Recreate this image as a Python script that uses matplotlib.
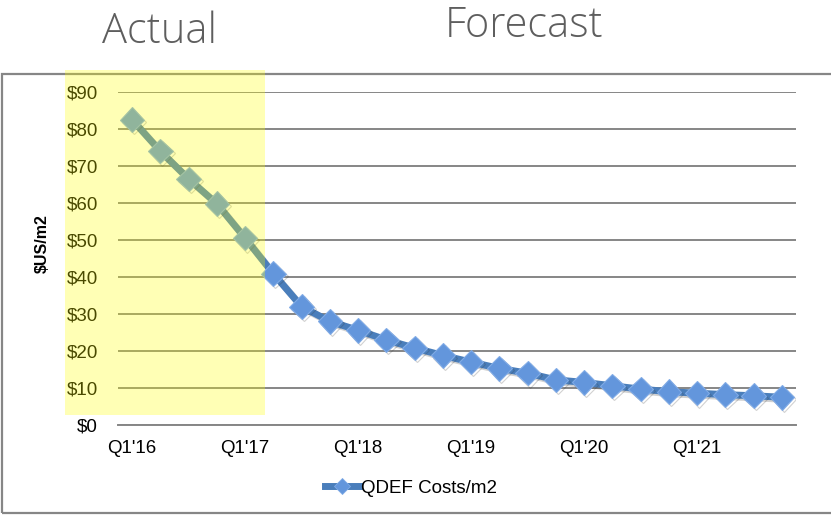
import matplotlib
matplotlib.use("Agg")
import matplotlib.pyplot as plt
from matplotlib.patches import Rectangle
from matplotlib.lines import Line2D
import matplotlib.patheffects as pe

# Quarterly cost per square metre, Q1'16 .. Q4'21
quarters = [f"Q{q}'{y}" for y in range(16, 22) for q in range(1, 5)]
costs = [82.5, 74.0, 66.5, 59.8, 50.5, 40.9, 32.0, 28.0,
         25.6, 23.0, 20.8, 18.8, 17.0, 15.3, 14.0, 12.2,
         11.5, 10.6, 9.7, 9.0, 8.6, 8.2, 7.9, 7.5]
tick_labels = ["Q1'16", "Q1'17", "Q1'18", "Q1'19", "Q1'20", "Q1'21"]
y_ticks = [0, 10, 20, 30, 40, 50, 60, 70, 80, 90]
series_name = "QDEF Costs/m2"

W, H = 831, 515
fig = plt.figure(figsize=(W / 100, H / 100), dpi=100)
fig.patch.set_facecolor("white")

font = ["Liberation Sans", "DejaVu Sans"]
blue_line = "#4A7EBB"
blue_marker = "#6396DC"
grid_grey = "#868686"
tick_size = 13.5

ax = fig.add_axes([118 / W, 1 - 425 / H, (796 - 118) / W, (425 - 92) / H])
ax.patch.set_visible(False)

x = list(range(len(costs)))
shadow = [pe.SimpleLineShadow(offset=(1.5, -1.5), alpha=0.22, shadow_color="#333333"), pe.Normal()]
ax.plot(x, costs, color=blue_line, lw=5.0, marker="D", ms=12.5,
        markerfacecolor=blue_marker, markeredgecolor="#80ABE6", markeredgewidth=0.8,
        solid_joinstyle="round", zorder=3, path_effects=shadow)

ax.set_xlim(-0.5, len(costs) - 0.5)
ax.set_ylim(0, 90)
ax.set_yticks(y_ticks)
ax.set_yticklabels([f"${v}" for v in y_ticks], family=font, fontsize=tick_size)
ax.set_xticks(x[::4])
ax.set_xticklabels(tick_labels, family=font, fontsize=tick_size)
ax.tick_params(axis="both", length=0, colors="black")
ax.tick_params(axis="y", pad=14.5)
ax.tick_params(axis="x", pad=10.5)
ax.yaxis.grid(True, color=grid_grey, lw=1.4)
ax.set_axisbelow(True)
for s in ["left", "right", "top"]:
    ax.spines[s].set_visible(False)
ax.spines["bottom"].set_color(grid_grey)
ax.spines["bottom"].set_linewidth(1.4)

fig.text(42.5 / W, 1 - 244 / H, "$US/m2", rotation=90, ha="center", va="center",
         family=font, fontsize=11.5, fontweight="bold", color="black")

# Legend below the plot
handle = Line2D([], [], color=blue_line, lw=5.0, marker="D", ms=8,
                markerfacecolor=blue_marker, markeredgecolor="#80ABE6", markeredgewidth=0.6)
fig.legend([handle], [series_name], loc="center", bbox_to_anchor=(411 / W, 1 - 488 / H),
           frameon=False, prop={"family": font, "size": tick_size},
           handlelength=1.8, handletextpad=0.1, markerscale=1.0)

# Outer chart frame
fig.patches.append(Rectangle((2 / W, 1 - 513 / H), 840 / W, (513 - 74) / H,
                             transform=fig.transFigure, fill=False,
                             edgecolor=grid_grey, lw=1.6, zorder=1))

# Translucent highlight over the actual-data period
fig.patches.append(Rectangle((65 / W, 1 - 415 / H), 200 / W, (415 - 70) / H,
                             transform=fig.transFigure, facecolor="#FFFF00",
                             alpha=0.29, edgecolor="none", zorder=5))

title_font = ["Open Sans", "DejaVu Sans"]
fig.text(160 / W, 1 - 32 / H, "Actual", ha="center", va="center",
         family=title_font, fontsize=30, fontweight="light", color="#5E5E5E")
fig.text(524 / W, 1 - 26 / H, "Forecast", ha="center", va="center",
         family=title_font, fontsize=30, fontweight="light", color="#5E5E5E")

fig.savefig("out.png", dpi=100)
